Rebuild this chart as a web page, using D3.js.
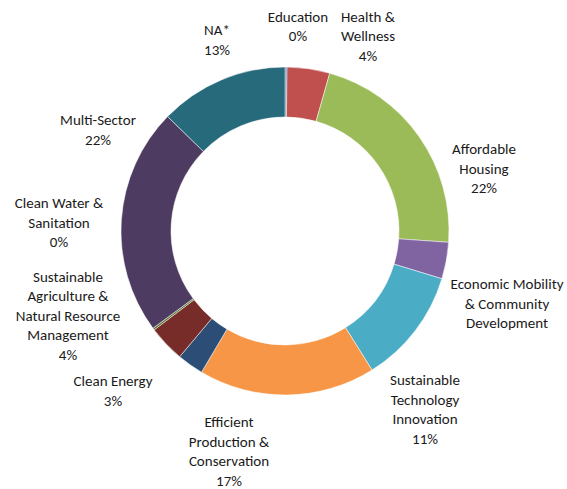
<!DOCTYPE html>
<html>
<head>
<meta charset="utf-8">
<script src="https://cdn.jsdelivr.net/npm/d3@7"></script>
<style>
  body { margin: 0; background: #fff; }
  text { font-family: Calibri, Carlito, Lato, "Open Sans", sans-serif; font-size: 15px; fill: #1a1a1a; }
</style>
</head>
<body>
<div id="chart"></div>
<script>
// slices clockwise from 12 o'clock
const categories = ["Education", "Health & Wellness", "Affordable Housing",
    "Economic Mobility & Community Development", "Sustainable Technology Innovation",
    "Efficient Production & Conservation", "Clean Energy",
    "Sustainable Agriculture & Natural Resource Management", "Clean Water & Sanitation",
    "Multi-Sector", "NA*"];
const values = [0.2, 4.2, 21.7, 3.6, 11.4, 17.4, 2.6, 3.6, 0.2, 22.4, 12.7];
const pctLabels = ["0%", "4%", "22%", "", "11%", "17%", "3%", "4%", "0%", "22%", "13%"];
// how each category name wraps in its label
const nameLines = [
    ["Education"],
    ["Health &", "Wellness"],
    ["Affordable", "Housing"],
    ["Economic Mobility", "& Community", "Development"],
    ["Sustainable", "Technology", "Innovation"],
    ["Efficient", "Production &", "Conservation"],
    ["Clean Energy"],
    ["Sustainable", "Agriculture &", "Natural Resource", "Management"],
    ["Clean Water &", "Sanitation"],
    ["Multi-Sector"],
    ["NA*"]
];
const colors = ["#4F81BD", "#C0504D", "#9BBB59", "#8064A2", "#4BACC6", "#F79646",
    "#2C4D75", "#772C2A", "#5F7530", "#4D3B62", "#276A7C"];

// layout
const width = 567, height = 489;
const cx = 285, cy = 231, outerR = 164, innerR = 114;
const lineH = 19.5;
// label anchor (centre x, first baseline y), placed like the original
const labelPos = [[298, 21.5], [368, 21.5], [484, 154], [507, 289], [425, 385],
    [229, 427], [113, 386], [68, 281.5], [59, 208], [98, 125], [217, 35]];

const svg = d3.select("#chart").append("svg")
    .attr("width", width)
    .attr("height", height);

const pie = d3.pie().sort(null).value(d => d);
const arc = d3.arc().innerRadius(innerR).outerRadius(outerR);

const g = svg.append("g")
    .attr("transform", `translate(${cx},${cy})`);

g.selectAll("path")
    .data(pie(values))
    .join("path")
    .attr("d", arc)
    .attr("fill", (d, i) => colors[i])
    .attr("stroke", "#fff")
    .attr("stroke-width", 0.5);

// data labels
const labels = svg.append("g");
categories.forEach((c, i) => {
    let lines = nameLines[i].slice();
    if (pctLabels[i]) lines.push(pctLabels[i]);
    let t = labels.append("text")
        .attr("text-anchor", "middle")
        .attr("x", labelPos[i][0])
        .attr("y", labelPos[i][1]);
    lines.forEach((l, j) => {
        t.append("tspan")
            .attr("x", labelPos[i][0])
            .attr("dy", j === 0 ? 0 : lineH)
            .text(l);
    });
});
</script>
</body>
</html>
